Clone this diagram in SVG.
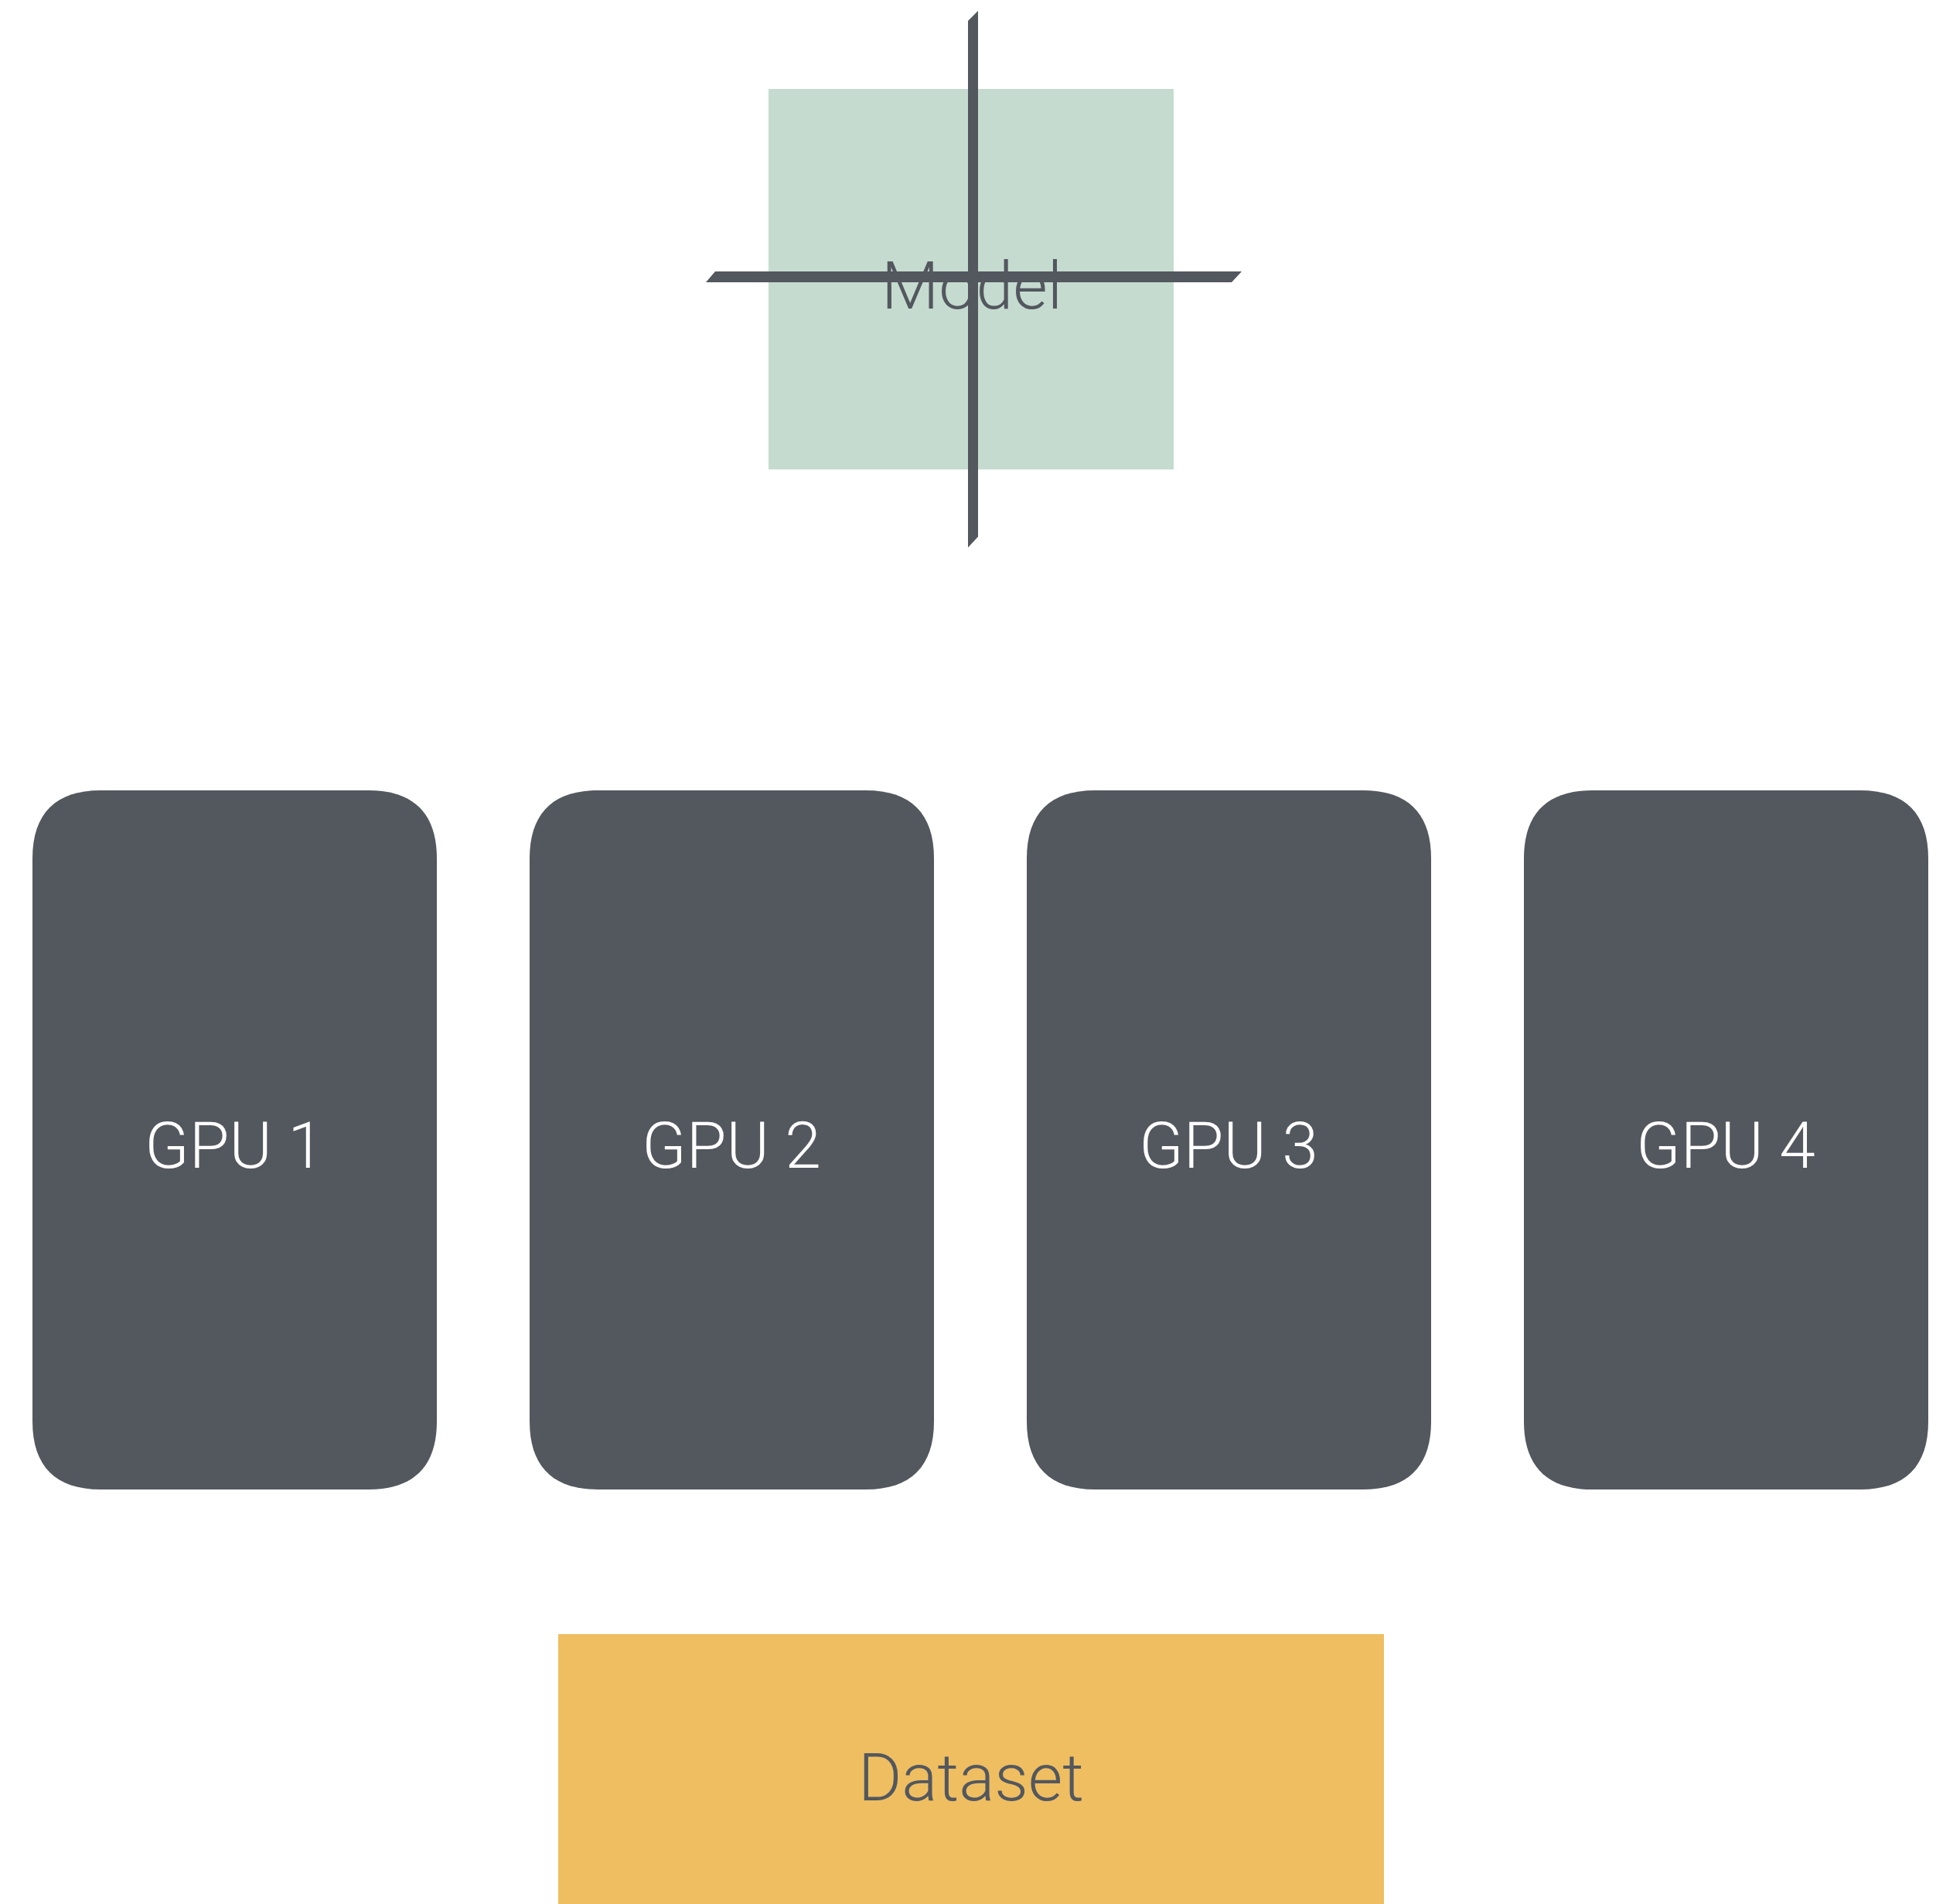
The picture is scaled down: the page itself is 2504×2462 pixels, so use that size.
<svg xmlns="http://www.w3.org/2000/svg" width="2504" height="2462" viewBox="0 0 2504 2462">
  <style>
    .gpu { fill: #53575e; }
    .gpu-label { fill: #ffffff; font-family: Roboto, "Liberation Sans", sans-serif; font-weight: 300; font-size: 84px; text-anchor: middle; }
    .dark-label { fill: #53575e; font-family: Roboto, "Liberation Sans", sans-serif; font-weight: 300; font-size: 86px; text-anchor: middle; }
    .bar { fill: #53575e; }
  </style>
  <defs>
    <!-- rounded GPU card, 523 x 904, smooth corners -->
    <path id="card" d="M88,0 H435 C493,0 523,30 523,88 V816 C523,874 493,904 435,904 H88 C30,904 0,874 0,816 V88 C0,30 30,0 88,0 Z"/>
  </defs>
  <rect width="2504" height="2462" fill="#ffffff"/>

  <g id="model">
    <rect x="994" y="115" width="524" height="492" fill="#c5dbcf"/>
    <text class="dark-label" x="1257" y="399">Model</text>
  </g>

  <g id="gpu1">
    <use href="#card" class="gpu" x="42" y="1022"/>
    <text class="gpu-label" x="303" y="1510">GPU 1</text>
  </g>
  <g id="gpu2">
    <use href="#card" class="gpu" x="685" y="1022"/>
    <text class="gpu-label" x="946" y="1510">GPU 2</text>
  </g>
  <g id="gpu3">
    <use href="#card" class="gpu" x="1328" y="1022"/>
    <text class="gpu-label" x="1589" y="1510">GPU 3</text>
  </g>
  <g id="gpu4">
    <use href="#card" class="gpu" x="1971" y="1022"/>
    <text class="gpu-label" x="2232" y="1510">GPU 4</text>
  </g>

  <g id="dataset">
    <rect x="722" y="2113" width="1068" height="360" fill="#efbe61"/>
    <text class="dark-label" x="1256" y="2328">Dataset</text>
  </g>

  <g id="connectors">
    <polygon class="bar" points="1252,27 1265,14 1265,694 1252,708"/>
    <polygon class="bar" points="925,351 1606,351 1593,365 913,365"/>
  </g>
</svg>
